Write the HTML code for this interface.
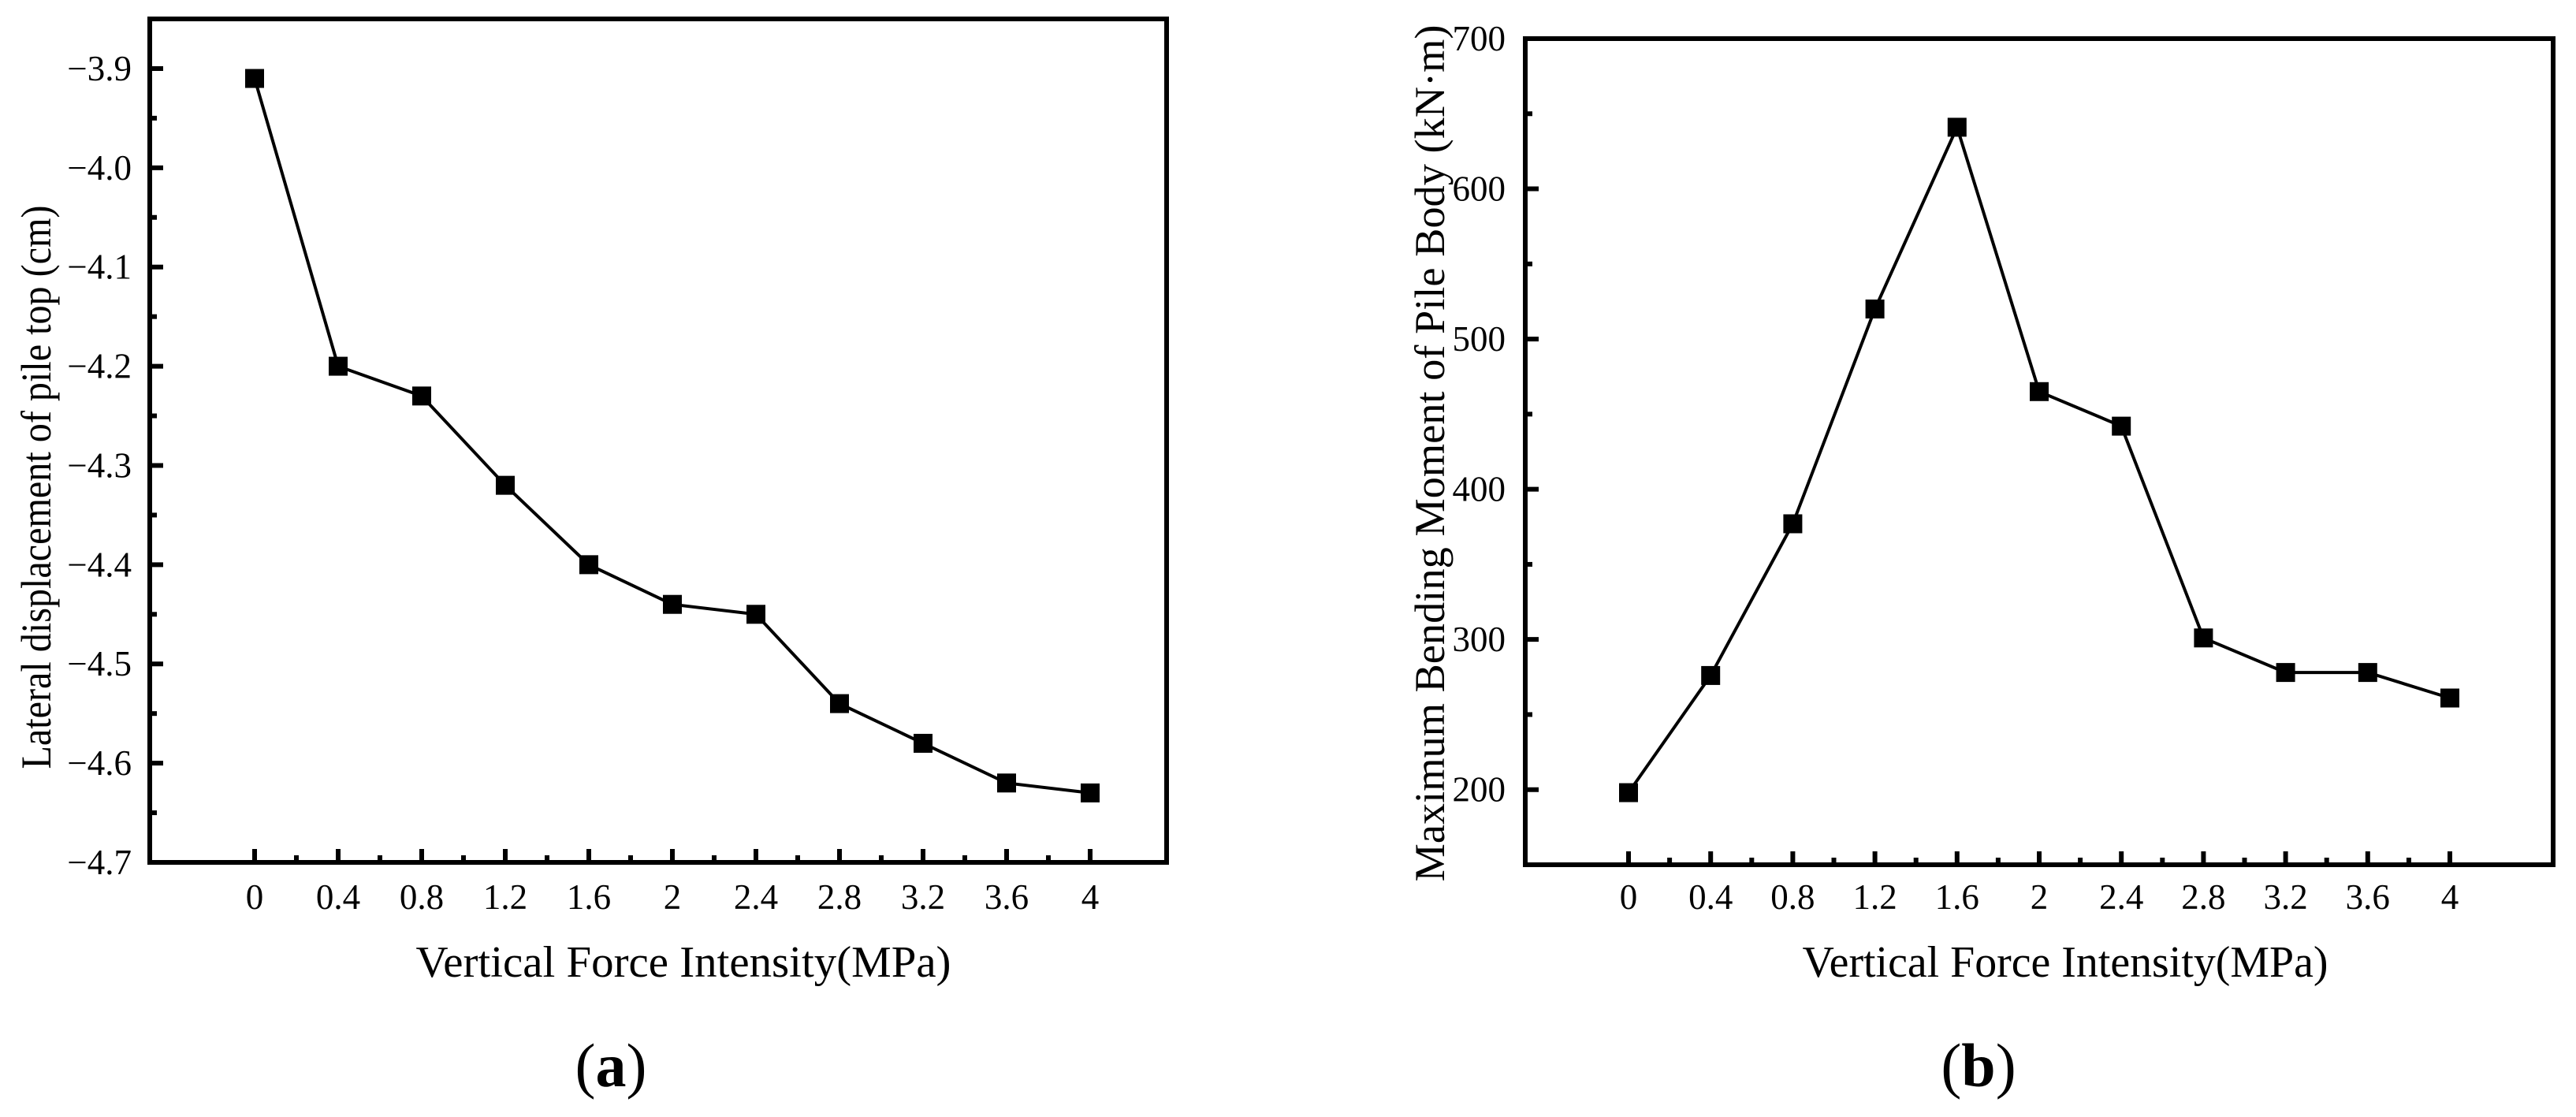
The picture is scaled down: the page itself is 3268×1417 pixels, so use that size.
<!DOCTYPE html>
<html><head><meta charset="utf-8"><style>
html,body{margin:0;padding:0;background:#fff;}
svg{display:block;font-family:"Liberation Serif",serif;}
</style></head><body>
<svg id="svg" width="3268" height="1417" viewBox="0 0 3268 1417" xmlns="http://www.w3.org/2000/svg">
<g id="pa"></g>
<g id="pb"></g>
</svg>
<script>
const xCats = [0, 0.4, 0.8, 1.2, 1.6, 2, 2.4, 2.8, 3.2, 3.6, 4];
const xTickLabels = ["0","0.4","0.8","1.2","1.6","2","2.4","2.8","3.2","3.6","4"];
const dispValues = [-3.91, -4.20, -4.23, -4.32, -4.40, -4.44, -4.45, -4.54, -4.58, -4.62, -4.63];
const momentValues = [198, 276, 377, 520, 641, 465, 442, 301, 278, 278, 261];
const dispTicks = [-3.9, -4.0, -4.1, -4.2, -4.3, -4.4, -4.5, -4.6, -4.7];
const dispTickLabels = ["\u22123.9","\u22124.0","\u22124.1","\u22124.2","\u22124.3","\u22124.4","\u22124.5","\u22124.6","\u22124.7"];
const momentTicks = [200, 300, 400, 500, 600, 700];
const momentTickLabels = ["200","300","400","500","600","700"];

const NS = "http://www.w3.org/2000/svg";
function mk(parent, tag, attrs, text){
  const e = document.createElementNS(NS, tag);
  for (const k in attrs) e.setAttribute(k, attrs[k]);
  if (text !== undefined) e.textContent = text;
  parent.appendChild(e);
  return e;
}

function panel(g, cfg){
  const {L,R,T,B,x0px,xStep,yTop,yBot,vals,yt,ytl,yMinorStep,ylabX,title,titleLen,xtCx,xtLen,tag,tagX} = cfg;
  const sx = v => x0px + (v / 0.4) * xStep;
  const sy = v => T + (yTop - v) / (yTop - yBot) * (B - T);
  for (let i = 0; i < xCats.length; i++){
    const x = sx(xCats[i]);
    const t = mk(g,'line',{x1:x,x2:x,y1:B,y2:B-17,stroke:'#000','stroke-width':6});
    
    
    const lb = mk(g,'text',{x:x,y:1153,'font-size':45,'text-anchor':'middle'},xTickLabels[i]);
    
    
    if (i < xCats.length-1){
      const xm = sx(xCats[i]+0.2);
      const m = mk(g,'line',{x1:xm,x2:xm,y1:B,y2:B-9,stroke:'#000','stroke-width':6});
      
      
    }
  }
  for (let i = 0; i < yt.length; i++){
    const y = sy(yt[i]);
    const t = mk(g,'line',{x1:L,x2:L+17,y1:y,y2:y,stroke:'#000','stroke-width':6});
    
    
    const lb = mk(g,'text',{x:ylabX,y:y+15,'font-size':45,'text-anchor':'end'},ytl[i]);
    
    
  }
  const lo = Math.min(yTop,yBot), hi = Math.max(yTop,yBot);
  for (let v = Math.min(...yt) - yMinorStep; v <= hi + 1e-9; v += 2*yMinorStep){
    if (v < lo - 1e-9) continue;
    const y = sy(v);
    if (y < T+4 || y > B-4) continue;
    const m = mk(g,'line',{x1:L,x2:L+9,y1:y,y2:y,stroke:'#000','stroke-width':6});
    
    
  }
  const fr = mk(g,'rect',{x:L,y:T,width:R-L,height:B-T,fill:'none',stroke:'#000','stroke-width':6});
  
  
  const pts = vals.map((v,i)=> sx(xCats[i]).toFixed(1)+','+sy(v).toFixed(1)).join(' ');
  const pl = mk(g,'polyline',{points:pts,fill:'none',stroke:'#000','stroke-width':4,'stroke-linejoin':'miter'});
  
  
  for (let i = 0; i < vals.length; i++){
    const r = mk(g,'rect',{x:sx(xCats[i])-12,y:sy(vals[i])-12,width:24,height:24,fill:'#000'});
    
    
  }
  const yt1 = mk(g,'text',{x:0,y:0,'font-size':54,'text-anchor':'middle',textLength:titleLen,lengthAdjust:'spacingAndGlyphs',transform:`translate(${cfg.ytitleX},${cfg.ytitleCy}) rotate(-90)`},title);
  
  
  const xt = mk(g,'text',{x:xtCx,y:1239,'font-size':56,'text-anchor':'middle',textLength:xtLen,lengthAdjust:'spacingAndGlyphs'},'Vertical Force Intensity(MPa)');
  
  
  const tg = mk(g,'text',{x:tagX,y:1378,'font-size':78,'text-anchor':'middle'});
  
  
  mk(tg,'tspan',{},'(');
  mk(tg,'tspan',{'font-weight':'bold'},tag);
  mk(tg,'tspan',{},')');
}

panel(document.getElementById('pa'),{
  L:190,R:1480,T:24,B:1094,x0px:323,xStep:106,yTop:-3.85,yBot:-4.7,
  vals:dispValues,yt:dispTicks,ytl:dispTickLabels,yMinorStep:0.05,ylabX:167,
  title:'Lateral displacement of pile top (cm)',ytitleX:64,ytitleCy:618,titleLen:715,
  xtCx:867,xtLen:679,tag:'a',tagX:775
});
panel(document.getElementById('pb'),{
  L:1935,R:3239,T:49,B:1097,x0px:2066,xStep:104.2,yTop:700,yBot:150,
  vals:momentValues,yt:momentTicks,ytl:momentTickLabels,yMinorStep:50,ylabX:1910,
  title:'Maximum Bending Moment of Pile Body (kN\u00b7m)',ytitleX:1832,ytitleCy:575,titleLen:1087,
  xtCx:2620,xtLen:667,tag:'b',tagX:2510
});
</script>
</body></html>
